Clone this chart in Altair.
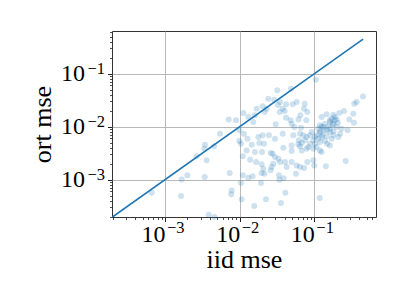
import altair as alt
import pandas as pd

# ---- data ----
iid_mse = [
    0.105, 0.0487, 0.0319, 0.0242, 0.0291, 0.0203, 0.0169, 0.0230, 0.0347, 0.0418,
    0.058, 0.0377, 0.0727, 0.0806, 0.0650, 0.0513, 0.0112, 0.0131, 0.00713, 0.00893,
    0.0152, 0.0304, 0.0418, 0.0482, 0.0497, 0.0611, 0.054, 0.0663, 0.00545, 0.0099,
    0.0114, 0.0127, 0.0178, 0.0203, 0.0247, 0.0297, 0.0377, 0.0523, 0.0643, 0.0921,
    0.0789, 0.0099, 0.0104, 0.0145, 0.0183, 0.0212, 0.0160, 0.0199, 0.026, 0.0124,
    0.011, 0.0385, 0.0497, 0.0497, 0.0643, 0.0677, 0.0789, 0.097, 0.102, 0.119,
    0.00343, 0.00453, 0.00336, 0.00265, 0.00361, 0.0138, 0.0166, 0.0197, 0.0277, 0.0297,
    0.033, 0.0347, 0.0282, 0.0268, 0.0207, 0.0405, 0.0426, 0.0497, 0.058, 0.0643,
    0.0727, 0.0806, 0.097, 0.1, 0.143, 0.263, 0.00199, 0.00167, 0.0034, 0.00735,
    0.011, 0.0131, 0.0149, 0.0197, 0.0193, 0.0214, 0.026, 0.0336, 0.0388, 0.0568,
    0.0104, 0.034, 0.000663, 0.00164, 0.00781, 0.0077, 0.0409, 0.0106, 0.0157, 0.0225,
    0.0358, 0.118, 0.00385, 0.00458,
    0.449, 0.369, 0.343, 0.25, 0.216, 0.18, 0.189, 0.171, 0.199, 0.146,
    0.125, 0.333, 0.294, 0.34, 0.162, 0.18, 0.154, 0.199, 0.232, 0.125,
    0.135, 0.119, 0.107, 0.162, 0.18, 0.221, 0.279, 0.113, 0.097, 0.146,
    0.149, 0.162, 0.139, 0.129, 0.176, 0.187, 0.207, 0.107, 0.0875, 0.075,
    0.0677, 0.0623, 0.0611, 0.139, 0.119, 0.132, 0.113, 0.119, 0.146, 0.162,
    0.18, 0.0713, 0.171, 0.102, 0.125, 0.0875, 0.162, 0.21, 0.119, 0.125,
    0.0832, 0.0743, 0.0326, 0.0401, 0.0159, 0.0216, 0.0343, 0.0781,
]
ort_mse = [
    0.077, 0.0521, 0.0485, 0.0337, 0.0323, 0.0242, 0.0219, 0.0219, 0.0292, 0.0264,
    0.0292, 0.0219, 0.0219, 0.0189, 0.0164, 0.0264, 0.0181, 0.0152, 0.0136, 0.0132,
    0.0122, 0.0111, 0.0148, 0.0132, 0.0114, 0.0136, 0.00986, 0.00958, 0.00738, 0.00853,
    0.00738, 0.00594, 0.00638, 0.00686, 0.00686, 0.00594, 0.00738, 0.00686, 0.00738, 0.00793,
    0.00638, 0.00537, 0.00478, 0.00457, 0.00492, 0.00478, 0.00333, 0.00333, 0.00318, 0.00357,
    0.00276, 0.00402, 0.00444, 0.00347, 0.00426, 0.00357, 0.00385, 0.00385, 0.00478, 0.00514,
    0.00457, 0.00426, 0.00385, 0.00276, 0.00232, 0.00238, 0.00215, 0.00195, 0.0031, 0.00268,
    0.00249, 0.00215, 0.002, 0.00173, 0.00161, 0.00215, 0.00173, 0.00215, 0.00186, 0.00173,
    0.00166, 0.00215, 0.00232, 0.00186, 0.00179, 0.00225, 0.00121, 0.00101, 0.00112, 0.00134,
    0.00121, 0.00109, 0.00116, 0.00134, 0.000865, 0.0013, 0.0015, 0.00121, 0.00107, 0.0013,
    0.000865, 0.001, 0.000569, 0.000492, 0.000629, 0.000529, 0.000569, 0.000426, 0.000318, 0.000426,
    0.000363, 0.000451, 0.000219, 0.000198,
    0.0373, 0.0292, 0.0272, 0.0198, 0.0181, 0.0168, 0.0152, 0.0142, 0.0137, 0.0171,
    0.0152, 0.0176, 0.0136, 0.0119, 0.0122, 0.0111, 0.0101, 0.00986, 0.00917, 0.0101,
    0.00853, 0.00771, 0.00686, 0.00793, 0.00686, 0.00738, 0.00853, 0.00594, 0.00552, 0.00657,
    0.00478, 0.00444, 0.00537, 0.00686, 0.0114, 0.0132, 0.0119, 0.00413, 0.00478, 0.00552,
    0.00492, 0.00552, 0.00464, 0.0114, 0.0106, 0.00986, 0.00917, 0.00817, 0.00853, 0.00917,
    0.00817, 0.00686, 0.00594, 0.00638, 0.00638, 0.00686, 0.0132, 0.00638, 0.00357, 0.00333,
    0.00413, 0.0272, 0.0256, 0.0198, 0.0164, 0.0189, 0.0189, 0.0132,
]
diag_ends = [0.000195, 0.45]
major_ticks = [0.001, 0.01, 0.1]
tick_base = "10"
tick_exponents = ["\u22123", "\u22122", "\u22121"]
x_minor = [0.0002, 0.0003, 0.0004, 0.0005, 0.0006, 0.0007, 0.0008, 0.0009,
           0.002, 0.003, 0.004, 0.005, 0.006, 0.007, 0.008, 0.009,
           0.02, 0.03, 0.04, 0.05, 0.06, 0.07, 0.08, 0.09,
           0.2, 0.3, 0.4, 0.5, 0.6]
y_minor = x_minor
x_domain = [0.000195, 0.67]
y_domain = [0.000198, 0.638]

FONT = "Liberation Serif"
BLUE = "#1f77b4"
W, H = 264, 186

df = pd.DataFrame({"iid": iid_mse, "ort": ort_mse})
line_df = pd.DataFrame({"iid": diag_ends, "ort": diag_ends})
exp_df = pd.DataFrame({"v": major_ticks, "e": tick_exponents})

xs = alt.Scale(type="log", domain=x_domain, nice=False)
ys = alt.Scale(type="log", domain=y_domain, nice=False)

common = dict(
    values=major_ticks, labelExpr=f"'{tick_base}'",
    grid=True, gridColor="#b0b0b0", gridWidth=0.9, domain=False,
    tickSize=4.5, tickColor="#222", tickWidth=1,
    labelFont=FONT, labelFontSize=24, labelColor="#000",
    titleFont=FONT, titleFontSize=26, titleFontWeight="normal", titleColor="#000",
)
x_axis = alt.Axis(title="iid mse", orient="bottom", labelAlign="right",
                  labelPadding=1, titlePadding=0, **common)
y_axis = alt.Axis(title="ort mse", orient="left", labelPadding=23,
                  titlePadding=5, **common)

def minor_axis(vals, orient):
    return alt.Axis(
        values=vals, labels=False, title="", orient=orient, grid=False,
        domain=False, tickSize=2.5, tickColor="#222", tickWidth=0.8,
    )

points = alt.Chart(df).mark_circle(size=36, color=BLUE, opacity=0.22).encode(
    x=alt.X("iid:Q", scale=xs, axis=x_axis),
    y=alt.Y("ort:Q", scale=ys, axis=y_axis),
)

line = alt.Chart(line_df).mark_line(color=BLUE, strokeWidth=1.6, clip=True).encode(
    x=alt.X("iid:Q", scale=xs, axis=minor_axis(x_minor, "bottom")),
    y=alt.Y("ort:Q", scale=ys, axis=minor_axis(y_minor, "left")),
)

x_exp = alt.Chart(exp_df).mark_text(
    font=FONT, fontSize=16.5, align="left", baseline="alphabetic",
    dx=2, dy=16, color="#000",
).encode(
    x=alt.X("v:Q", scale=xs, axis=None),
    y=alt.value(H),
    text="e:N",
)

y_exp = alt.Chart(exp_df).mark_text(
    font=FONT, fontSize=16.5, align="right", baseline="alphabetic",
    dx=-7, dy=0, color="#000",
).encode(
    y=alt.Y("v:Q", scale=ys, axis=None),
    x=alt.value(0),
    text="e:N",
)

chart = (
    alt.layer(points, line, x_exp, y_exp)
    .resolve_axis(x="independent", y="independent")
    .properties(
        width=W, height=H,
        autosize=alt.AutoSizeParams(type="none"),
        padding={"left": 104, "top": 23, "right": 15, "bottom": 80},
        background="white",
    )
    .configure_view(stroke="#333", strokeWidth=1)
)

chart.save("out.html", embed_options={"renderer": "svg", "actions": False})
